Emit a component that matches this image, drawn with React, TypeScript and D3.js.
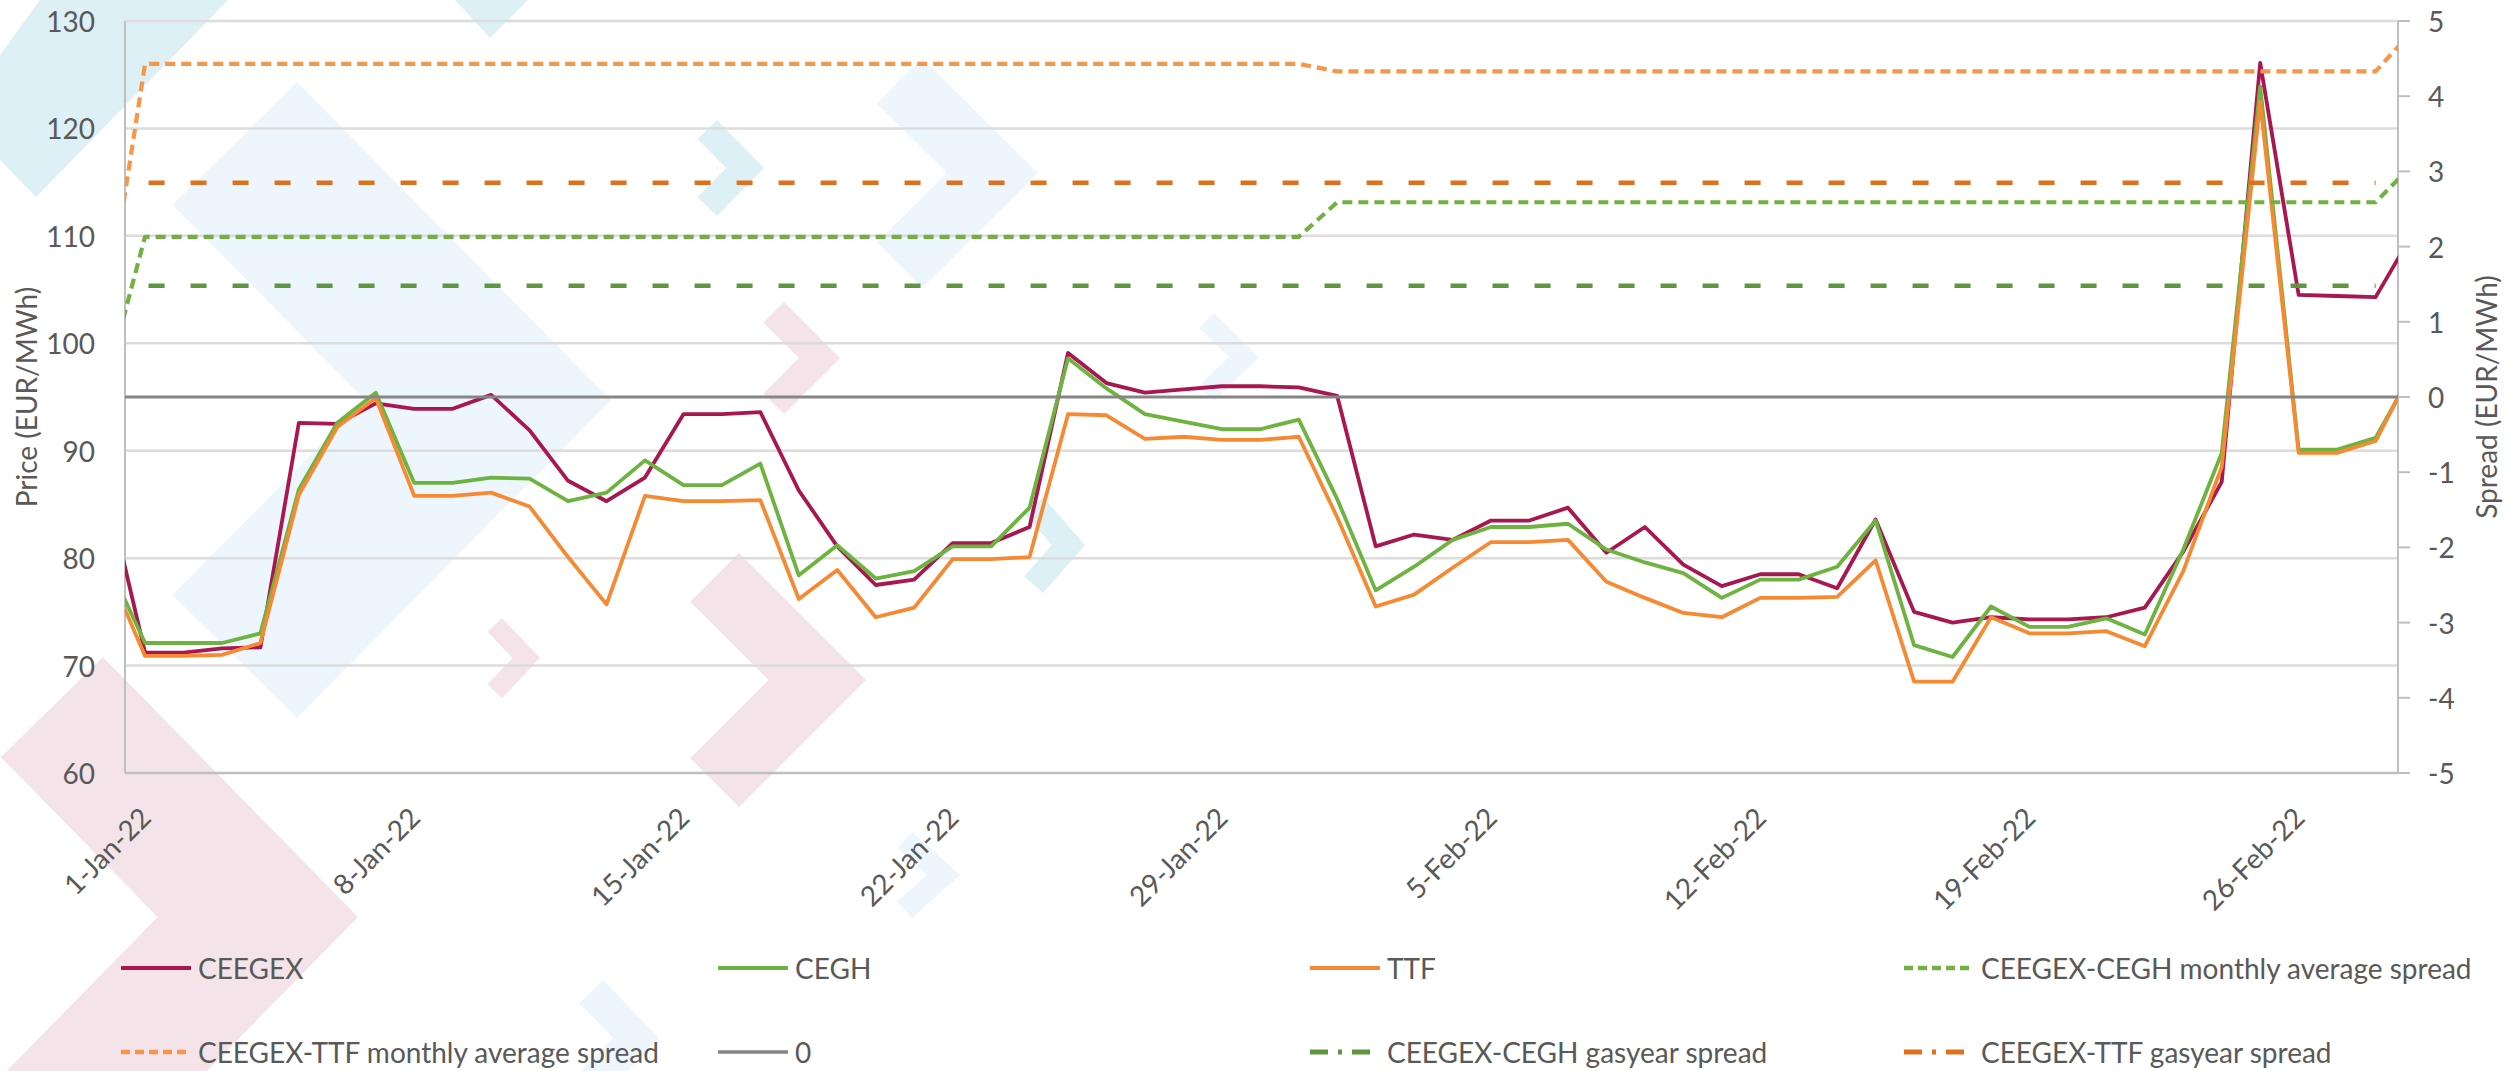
import React, { useEffect, useRef } from 'react';
import * as d3 from 'd3';

const W = 2514;
const H = 1071;

// gas days shown: 31-Dec-21 .. 1-Mar-22 (the ends are cut by the plot area)
const days = d3.timeDay.range(new Date(2021, 11, 31), new Date(2022, 2, 2));

// day-ahead prices, EUR/MWh
const ceegex = [86.5, 71.2, 71.2, 71.6, 71.7, 92.6, 92.5, 94.4, 93.9, 93.9, 95.2, 91.9, 87.2, 85.3, 87.5, 93.4, 93.4, 93.6, 86.3, 81.1, 77.5, 78.0, 81.4, 81.4, 82.9, 99.1, 96.3, 95.4, 95.7, 96.0, 96.0, 95.9, 95.1, 81.1, 82.2, 81.7, 83.5, 83.5, 84.7, 80.5, 82.9, 79.4, 77.4, 78.5, 78.5, 77.2, 83.6, 75.0, 74.0, 74.5, 74.3, 74.3, 74.5, 75.4, 80.6, 87.1, 126.1, 104.5, 104.4, 104.3, 110.4];
const cegh = [79.8, 72.1, 72.1, 72.1, 73.0, 86.4, 92.6, 95.4, 87.0, 87.0, 87.5, 87.4, 85.3, 86.1, 89.1, 86.8, 86.8, 88.8, 78.4, 81.2, 78.1, 78.8, 81.1, 81.1, 84.7, 98.6, 95.8, 93.4, 92.7, 92.0, 92.0, 92.9, 85.5, 77.0, 79.2, 81.7, 82.9, 82.9, 83.2, 80.8, 79.6, 78.6, 76.3, 78.0, 78.0, 79.2, 83.5, 71.9, 70.8, 75.5, 73.6, 73.6, 74.4, 72.9, 80.8, 89.8, 123.9, 90.1, 90.1, 91.2, 97.6];
const ttf = [79.2, 70.9, 70.9, 71.0, 72.1, 85.9, 92.2, 94.9, 85.8, 85.8, 86.1, 84.8, 80.1, 75.7, 85.8, 85.3, 85.3, 85.4, 76.2, 78.9, 74.5, 75.4, 79.9, 79.9, 80.1, 93.4, 93.3, 91.1, 91.3, 91.0, 91.0, 91.3, 83.8, 75.5, 76.6, 79.1, 81.5, 81.5, 81.7, 77.8, 76.3, 74.9, 74.5, 76.3, 76.3, 76.4, 79.8, 68.5, 68.5, 74.5, 73.0, 73.0, 73.2, 71.8, 78.8, 88.5, 122.5, 89.8, 89.8, 90.9, 97.8];

// spreads on the secondary axis, EUR/MWh
const months = ['2021-12', '2022-01', '2022-02', '2022-03'];
const ceghMonthly = [0.21, 2.13, 2.59, 3.11];
const ttfMonthly = [1.12, 4.43, 4.33, 4.89];
const ceghGasyear = 1.48;
const ttfGasyear = 2.85;
const gasyearEnd = new Date(2022, 1, 28);

const tickDays = [new Date(2022, 0, 1), new Date(2022, 0, 8), new Date(2022, 0, 15), new Date(2022, 0, 22), new Date(2022, 0, 29), new Date(2022, 1, 5), new Date(2022, 1, 12), new Date(2022, 1, 19), new Date(2022, 1, 26)];
const tickLabels = ['1-Jan-22', '8-Jan-22', '15-Jan-22', '22-Jan-22', '29-Jan-22', '5-Feb-22', '12-Feb-22', '19-Feb-22', '26-Feb-22'];
const priceTicks = [60, 70, 80, 90, 100, 110, 120, 130];
const spreadTicks = [-5, -4, -3, -2, -1, 0, 1, 2, 3, 4, 5];

const FONT = 'Lato, "Open Sans", sans-serif';
const TEXT = '#595959';

// pale watermark chevrons behind the chart: tip x, tip y, arm dx, arm dy, thickness, colour
const chevrons: [number, number, number, number, number, string][] = [
  [611, 400, 314, 318, 175, '#EEF6FD'],
  [358, 917, 255, 260, 143, '#F5E3EA'],
  [866, 680, 127, 127, 69, '#F5E3EA'],
  [540, 658, 38, 40, 20, '#F5E3EA'],
  [840, 358, 56, 56, 29, '#F5E3EA'],
  [764, 168, 47, 48, 27, '#DDF0F5'],
  [1085, 545, 42, 48, 25, '#DDF0F5'],
  [1038, 173, 116, 115, 64, '#EEF6FD'],
  [1259, 357, 45, 44, 21, '#EEF6FD'],
  [960, 875, 48, 43, 22, '#EEF6FD'],
  [659, 1038, 56, 58, 33, '#EEF6FD'],
];

function chevronPoints([tx, ty, w, h, th]: number[]) {
  const n = Math.sqrt(w * w + h * h);
  const ox = (h * th) / n;
  const oy = (w * th) / n;
  const notch = (th * n) / h;
  return [
    [tx - w, ty - h],
    [tx, ty],
    [tx - w, ty + h],
    [tx - w - ox, ty + h - oy],
    [tx - notch, ty],
    [tx - w - ox, ty - h + oy],
  ];
}

export default function App() {
  const ref = useRef<SVGSVGElement>(null);

  useEffect(() => {
    const svg = d3.select(ref.current);
    svg.selectAll('*').remove();

    const left = 125;
    const right = 2398;
    const top = 21;
    const bottom = 773;

    const x = d3
      .scaleTime()
      .domain([new Date(2021, 11, 31, 11, 30), new Date(2022, 1, 28, 14, 0)])
      .range([left, right]);
    const yPrice = d3.scaleLinear().domain([60, 130]).range([bottom, top]);
    const ySpread = d3.scaleLinear().domain([-5, 5]).range([bottom, top]);

    const monthOf = d3.timeFormat('%Y-%m');

    // background decoration
    const deco = svg.append('g');
    deco.append('polygon').attr('points', '0,55 40,0 228,0 36,197 0,160').attr('fill', '#DDF0F5');
    deco.append('polygon').attr('points', '455,0 528,0 490,38').attr('fill', '#DDF0F5');
    chevrons.forEach((c) => {
      deco
        .append('polygon')
        .attr('points', chevronPoints(c as any).map((p) => p.join(',')).join(' '))
        .attr('fill', c[5]);
    });

    // gridlines
    svg
      .append('g')
      .selectAll('line')
      .data(priceTicks.filter((v) => v > 60))
      .enter()
      .append('line')
      .attr('x1', left)
      .attr('x2', right)
      .attr('y1', (d) => yPrice(d))
      .attr('y2', (d) => yPrice(d))
      .attr('stroke', '#DCDCDC')
      .attr('stroke-width', 2.5);

    // axis lines
    const axisColor = '#BFBFBF';
    svg.append('line').attr('x1', left).attr('x2', right).attr('y1', bottom).attr('y2', bottom).attr('stroke', axisColor).attr('stroke-width', 2.5);
    svg.append('line').attr('x1', left).attr('x2', left).attr('y1', top).attr('y2', bottom).attr('stroke', axisColor).attr('stroke-width', 2);
    svg.append('line').attr('x1', right).attr('x2', right).attr('y1', top).attr('y2', bottom).attr('stroke', axisColor).attr('stroke-width', 2);

    // left axis labels
    svg
      .append('g')
      .selectAll('text')
      .data(priceTicks)
      .enter()
      .append('text')
      .attr('x', 95)
      .attr('y', (d) => yPrice(d))
      .attr('text-anchor', 'end')
      .attr('dominant-baseline', 'central')
      .attr('font-family', FONT)
      .attr('font-size', 28)
      .attr('fill', TEXT)
      .text((d) => d);

    // right axis ticks + labels
    const ra = svg.append('g');
    ra.selectAll('line')
      .data(spreadTicks)
      .enter()
      .append('line')
      .attr('x1', right)
      .attr('x2', right + 12)
      .attr('y1', (d) => ySpread(d))
      .attr('y2', (d) => ySpread(d))
      .attr('stroke', axisColor)
      .attr('stroke-width', 2);
    ra.selectAll('text')
      .data(spreadTicks)
      .enter()
      .append('text')
      .attr('x', right + 30)
      .attr('y', (d) => ySpread(d))
      .attr('dominant-baseline', 'central')
      .attr('font-family', FONT)
      .attr('font-size', 28)
      .attr('fill', TEXT)
      .text((d) => d);

    // x labels
    svg
      .append('g')
      .selectAll('text')
      .data(tickDays)
      .enter()
      .append('text')
      .attr('transform', (d) => `translate(${x(d)}, 812) rotate(-45)`)
      .attr('text-anchor', 'end')
      .attr('dominant-baseline', 'central')
      .attr('font-family', FONT)
      .attr('font-size', 28)
      .attr('fill', TEXT)
      .text((d, i) => tickLabels[i]);

    // axis titles
    svg
      .append('text')
      .attr('transform', `translate(26, ${(top + bottom) / 2}) rotate(-90)`)
      .attr('text-anchor', 'middle')
      .attr('dominant-baseline', 'central')
      .attr('font-family', FONT)
      .attr('font-size', 28)
      .attr('fill', TEXT)
      .text('Price (EUR/MWh)');
    svg
      .append('text')
      .attr('transform', `translate(2486, ${(top + bottom) / 2}) rotate(-90)`)
      .attr('text-anchor', 'middle')
      .attr('dominant-baseline', 'central')
      .attr('font-family', FONT)
      .attr('font-size', 28)
      .attr('fill', TEXT)
      .text('Spread (EUR/MWh)');

    // series
    const series = [
      { name: 'CEEGEX', color: '#A8174F', width: 3.8, dash: null, legendDash: null, y: yPrice, pts: days.map((d, i) => [d, ceegex[i]]) },
      { name: 'CEGH', color: '#6DB33F', width: 3.8, dash: null, legendDash: null, y: yPrice, pts: days.map((d, i) => [d, cegh[i]]) },
      { name: 'TTF', color: '#F68A33', width: 3.8, dash: null, legendDash: null, y: yPrice, pts: days.map((d, i) => [d, ttf[i]]) },
      { name: 'CEEGEX-CEGH monthly average spread', color: '#72B043', width: 4.2, dash: '10,6', legendDash: '9,5', y: ySpread, pts: days.map((d) => [d, ceghMonthly[months.indexOf(monthOf(d))]]) },
      { name: 'CEEGEX-TTF monthly average spread', color: '#F79646', width: 4.2, dash: '10,6', legendDash: '9,5', y: ySpread, pts: days.map((d) => [d, ttfMonthly[months.indexOf(monthOf(d))]]) },
      { name: '0', color: '#858585', width: 3, dash: null, legendDash: null, y: ySpread, pts: days.map((d) => [d, 0]) },
      { name: 'CEEGEX-CEGH gasyear spread', color: '#5E973F', width: 4.5, dash: '16,26', legendDash: '18,10,4,10', y: ySpread, pts: days.filter((d) => d <= gasyearEnd).map((d) => [d, ceghGasyear]) },
      { name: 'CEEGEX-TTF gasyear spread', color: '#E0701E', width: 4.5, dash: '16,26', legendDash: '18,10,4,10', y: ySpread, pts: days.filter((d) => d <= gasyearEnd).map((d) => [d, ttfGasyear]) },
    ];

    svg
      .append('clipPath')
      .attr('id', 'plot-clip')
      .append('rect')
      .attr('x', left)
      .attr('y', 0)
      .attr('width', right - left)
      .attr('height', H);

    const lines = svg.append('g').attr('clip-path', 'url(#plot-clip)');
    series.forEach((s) => {
      const line = d3
        .line<any>()
        .x((p) => x(p[0]))
        .y((p) => s.y(p[1]));
      lines
        .append('path')
        .attr('d', line(s.pts))
        .attr('fill', 'none')
        .attr('stroke', s.color)
        .attr('stroke-width', s.width)
        .attr('stroke-linejoin', 'round')
        .attr('stroke-dasharray', s.dash);
    });

    // legend, 4 columns x 2 rows
    const legendX = [121, 718, 1310, 1904];
    const legendY = [968, 1052];
    const legend = svg.append('g');
    series.forEach((s, i) => {
      const lx = legendX[i % 4];
      const ly = legendY[Math.floor(i / 4)];
      legend
        .append('line')
        .attr('x1', lx)
        .attr('x2', lx + 70)
        .attr('y1', ly)
        .attr('y2', ly)
        .attr('stroke', s.color)
        .attr('stroke-width', s.width + 0.3)
        .attr('stroke-dasharray', s.legendDash);
      legend
        .append('text')
        .attr('x', lx + 77)
        .attr('y', ly)
        .attr('dominant-baseline', 'central')
        .attr('font-family', FONT)
        .attr('font-size', 28)
        .attr('fill', TEXT)
        .text(s.name);
    });
  }, []);

  return (
    <svg
      ref={ref}
      width={W}
      height={H}
      style={{ position: 'absolute', left: 0, top: 0, background: '#fff', display: 'block' }}
    />
  );
}
